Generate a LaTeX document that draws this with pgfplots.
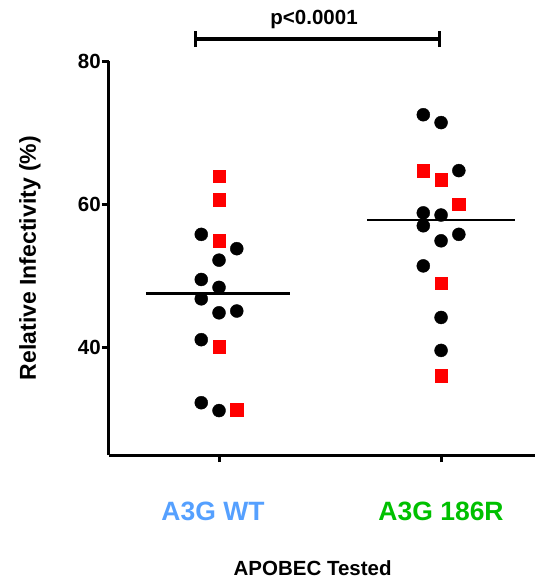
\documentclass[border=0pt]{standalone}
\usepackage{pgfplots}
\pgfplotsset{compat=1.18}
\usepackage{fontspec}
\setmainfont{Liberation Sans}
\definecolor{wtblue}{RGB}{85,160,255}
\definecolor{mutgreen}{RGB}{0,192,0}

\begin{document}
\begin{tikzpicture}[x=1pt,y=1pt]
\path[use as bounding box] (-109,-124) rectangle (426,455);
\begin{axis}[
    at={(0,0)}, anchor=south west,
    scale only axis,
    width=426pt, height=394pt,
    xmin=0.5045, xmax=2.423,
    ymin=25, ymax=80,
    axis lines=left,
    axis line style={line width=3pt, -},
    clip=false,
    xtick={1,2},
    xticklabels={\textcolor{wtblue}{A3G WT\kern12pt}, \textcolor{mutgreen}{A3G 186R}},
    ytick={40,60,80},
    tick align=outside,
    major tick length=7pt,
    tick style={line width=3pt, black},
    every tick label/.append style={font=\fontsize{20.5}{20.5}\selectfont\bfseries},
    /pgf/number format/assume math mode=true,
    yticklabel style={inner sep=1pt},
    xticklabel style={anchor=base, yshift=-58pt, font=\fontsize{26.5}{26.5}\selectfont\bfseries},
    ylabel={Relative Infectivity (\%)},
    ylabel style={at={(axis description cs:-0.1855,0.5)}, anchor=center, rotate=0,
                  font=\fontsize{23}{23}\selectfont\bfseries},
    xlabel={APOBEC Tested},
    xlabel style={at={(axis description cs:0.478,0)}, anchor=base, yshift=-120pt,
                  font=\fontsize{20.5}{20.5}\selectfont\bfseries},
]
% black circles, A3G WT
\addplot[only marks, mark=*, mark size=6.5pt, mark options={draw=black, fill=black}]
coordinates {(0.92,55.8) (1.08,53.8) (1,52.2) (0.92,49.5) (1,48.4) (0.92,46.8)
             (1,44.85) (1.08,45.1) (0.92,41.1) (0.92,32.3) (1,31.2)};
% red squares, A3G WT
\addplot[only marks, mark=square*, mark size=6.3pt, mark options={draw=red, fill=red}]
coordinates {(1,63.9) (1,60.6) (1,54.9) (1,40.1) (1.08,31.3)};
% black circles, A3G 186R
\addplot[only marks, mark=*, mark size=6.5pt, mark options={draw=black, fill=black}]
coordinates {(1.92,72.5) (2,71.4) (2.08,64.7) (1.92,58.8) (2,58.5) (1.92,57.0)
             (2.08,55.8) (2,54.9) (1.92,51.4) (2,44.2) (2,39.6)};
% red squares, A3G 186R
\addplot[only marks, mark=square*, mark size=6.3pt, mark options={draw=red, fill=red}]
coordinates {(1.92,64.7) (2,63.4) (2.08,60.0) (2,49.0) (2,36.1)};
% means
\addplot[black, line width=2.8pt] coordinates {(0.671,47.5) (1.320,47.5)};
\addplot[black, line width=2.8pt] coordinates {(1.667,57.8) (2.333,57.8)};
% significance bracket
\draw[line width=3.5pt] (axis cs:0.892,83.07) -- (axis cs:1.995,83.07);
\draw[line width=3pt] (axis cs:0.892,81.95) -- (axis cs:0.892,84.2);
\draw[line width=3pt] (axis cs:1.995,81.95) -- (axis cs:1.995,84.2);
\node[anchor=base, font=\fontsize{20.5}{20.5}\selectfont\bfseries, inner sep=0pt]
  at (axis cs:1.428,85.1) {p<0.0001};
\end{axis}
\end{tikzpicture}
\end{document}
